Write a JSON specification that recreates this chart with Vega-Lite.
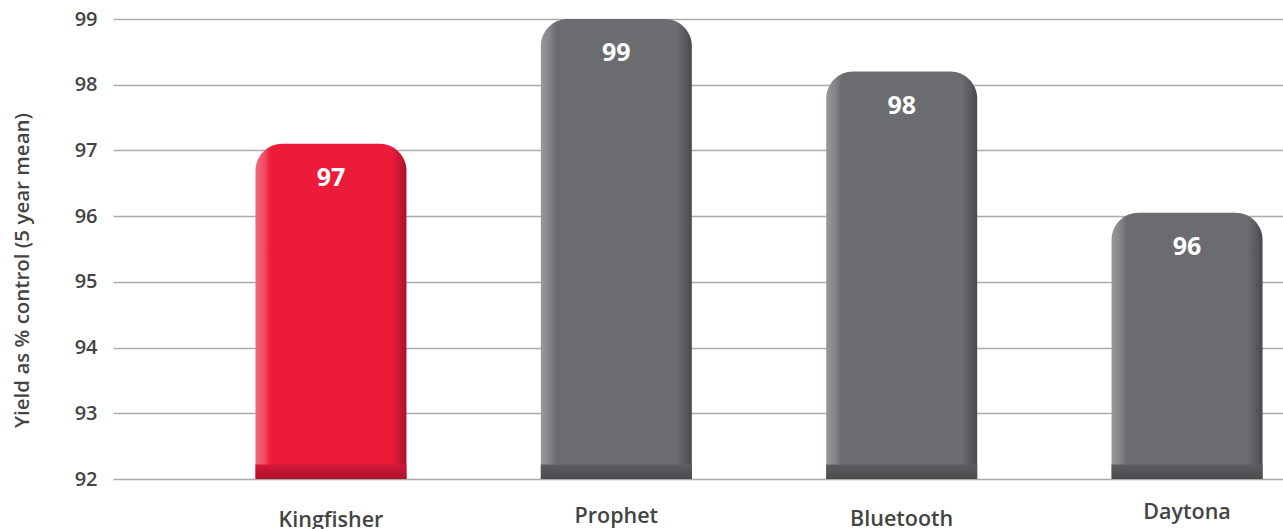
{
  "$schema": "https://vega.github.io/schema/vega-lite/v6.json",
  "width": 1170,
  "height": 460,
  "autosize": {"type": "none"},
  "padding": {"left": 113, "top": 19, "right": 0, "bottom": 50},
  "background": "white",
  "config": {
    "view": {"stroke": null},
    "font": "Open Sans",
    "axis": {"labelFont": "Open Sans", "titleFont": "Open Sans"}
  },
  "data": {
    "values": [
      {"variety": "Kingfisher", "yield": 97.1},
      {"variety": "Prophet", "yield": 99.0},
      {"variety": "Bluetooth", "yield": 98.2},
      {"variety": "Daytona", "yield": 96.05}
    ]
  },
  "encoding": {
    "x": {
      "field": "variety",
      "type": "nominal",
      "sort": null,
      "scale": {"paddingInner": 0.47, "paddingOuter": 0.285, "align": 0.875},
      "axis": {
        "title": null,
        "domain": false,
        "ticks": false,
        "grid": false,
        "labelAngle": 0,
        "labelFontSize": 21.5,
        "labelFontWeight": 600,
        "labelColor": "#444444",
        "labelPadding": {"condition": [
          {"test": "datum.value === 'Daytona'", "value": 22},
          {"test": "datum.value === 'Prophet'", "value": 26},
          {"test": "datum.value === 'Bluetooth'", "value": 29}
        ], "value": 30}
      }
    }
  },
  "layer": [
    {
      "mark": {
        "type": "bar",
        "cornerRadiusTopLeft": 27,
        "cornerRadiusTopRight": 27,
        "width": 151
      },
      "encoding": {
        "y": {
          "field": "yield",
          "type": "quantitative",
          "scale": {"domain": [92, 99], "zero": false, "nice": false},
          "axis": {
            "values": [92, 93, 94, 95, 96, 97, 98, 99],
            "format": "d",
            "title": "Yield as % control (5 year mean)",
            "titleFontSize": 20.5,
            "titleFontWeight": 600,
            "titleColor": "#444444",
            "titlePadding": 42,
            "titleY": 251,
            "domain": false,
            "ticks": false,
            "labelFontSize": 20,
            "labelFontWeight": 600,
            "labelColor": "#444444",
            "labelPadding": 16,
            "gridColor": "#aaaaaa",
            "gridWidth": 1.3
          }
        },
        "y2": {"datum": 92},
        "color": {
          "condition": {
            "test": "datum.variety === 'Kingfisher'",
            "value": {
              "gradient": "linear", "x1": 0, "x2": 1, "y1": 0, "y2": 0,
              "stops": [
                {"offset": 0, "color": "#f26b7d"},
                {"offset": 0.06, "color": "#f04b62"},
                {"offset": 0.1, "color": "#ed1b3a"},
                {"offset": 0.9, "color": "#ed1b3a"},
                {"offset": 0.96, "color": "#c81632"},
                {"offset": 1, "color": "#a8122a"}
              ]
            }
          },
          "value": {
            "gradient": "linear", "x1": 0, "x2": 1, "y1": 0, "y2": 0,
            "stops": [
              {"offset": 0, "color": "#98999b"},
              {"offset": 0.06, "color": "#838486"},
              {"offset": 0.1, "color": "#6b6c70"},
              {"offset": 0.9, "color": "#6b6c70"},
              {"offset": 0.96, "color": "#58595c"},
              {"offset": 1, "color": "#48494b"}
            ]
          }
        }
      }
    },
    {
      "mark": {"type": "bar", "width": 151},
      "encoding": {
        "y": {"datum": 92},
        "y2": {"datum": 92.22},
        "color": {
          "condition": {
            "test": "datum.variety === 'Kingfisher'",
            "value": {
              "gradient": "linear", "x1": 0, "x2": 0, "y1": 0, "y2": 1,
              "stops": [
                {"offset": 0, "color": "#d4173a"},
                {"offset": 1, "color": "#ae1229"}
              ]
            }
          },
          "value": {
            "gradient": "linear", "x1": 0, "x2": 0, "y1": 0, "y2": 1,
            "stops": [
              {"offset": 0, "color": "#5c5d60"},
              {"offset": 1, "color": "#4a4b4d"}
            ]
          }
        }
      }
    },
    {
      "mark": {
        "type": "text",
        "color": "white",
        "fontSize": 25,
        "fontWeight": 700,
        "baseline": "middle",
        "dy": 34
      },
      "encoding": {
        "y": {"field": "yield", "type": "quantitative"},
        "text": {"field": "yield", "type": "quantitative", "format": ".0f"}
      }
    }
  ]
}
